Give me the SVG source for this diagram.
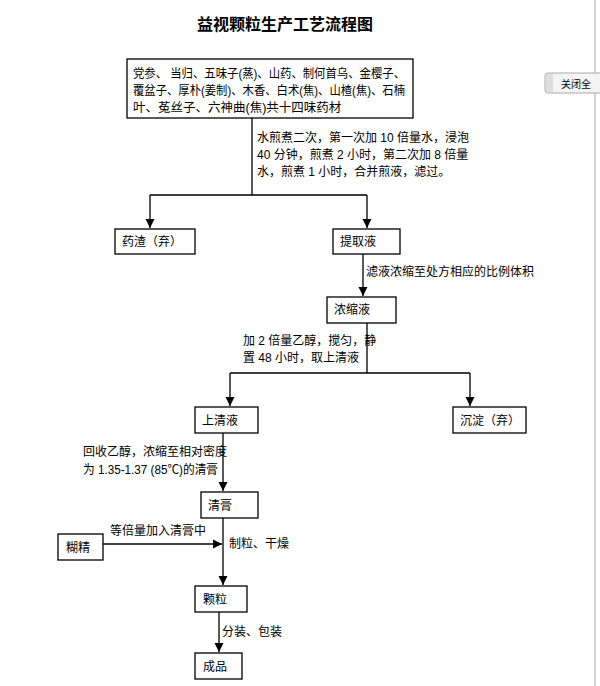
<svg xmlns="http://www.w3.org/2000/svg" width="600" height="686" viewBox="0 0 600 686">
<style>
text{font-family:"Liberation Sans","Noto Sans CJK SC",sans-serif;font-size:12px;fill:#000}
.b{fill:#fff;stroke:#000;stroke-width:1.3}
.c{fill:none;stroke:#000;stroke-width:1.3}
.t{font-size:12.5px}
</style>
<defs><marker id="a" viewBox="0 0 10 10" refX="10" refY="5" markerWidth="7" markerHeight="7" orient="auto"><path d="M0,0 L10,5 L0,10 z" fill="#000"/></marker></defs>
<rect width="600" height="686" fill="#fff"/>
<line x1="595" y1="0" x2="595" y2="686" stroke="#aaa"/>
<g id="ui"><rect x="545" y="73" width="60" height="20" rx="3" fill="#f4f4f4" stroke="#aaa"/><rect x="546" y="74" width="7" height="18" fill="#ddd"/><text x="561" y="88" fill="#444" style="font-size:10px">关闭全</text></g>
<text x="285" y="30" text-anchor="middle" style="font-size:16px;font-weight:bold">益视颗粒生产工艺流程图</text>
<g id="connectors">
<path class="c" d="M252,118 V195 M150,195 H367"/>
<path class="c" d="M150,195 V228" marker-end="url(#a)"/>
<path class="c" d="M367,195 V228" marker-end="url(#a)"/>
<path class="c" d="M363,254 V296" marker-end="url(#a)"/>
<path class="c" d="M367,323 V373 M230,373 H470"/>
<path class="c" d="M230,373 V406" marker-end="url(#a)"/>
<path class="c" d="M470,373 V406" marker-end="url(#a)"/>
<path class="c" d="M223,433 V491" marker-end="url(#a)"/>
<path class="c" d="M223,518 V585" marker-end="url(#a)"/>
<path class="c" d="M103,544 H222" marker-end="url(#a)"/>
<path class="c" d="M219,612 V652" marker-end="url(#a)"/>
<text x="257" y="142">水煎煮二次，第一次加 10 倍量水，浸泡</text>
<text x="257" y="159">40 分钟，煎煮 2 小时，第二次加 8 倍量</text>
<text x="257" y="176">水，煎煮 1 小时，合并煎液，滤过。</text>
<text x="366" y="276">滤液浓缩至处方相应的比例体积</text>
<text x="243" y="345">加 2 倍量乙醇，搅匀，静</text>
<text x="243" y="362">置 48 小时，取上清液</text>
<text x="83" y="456">回收乙醇，浓缩至相对密度</text>
<text x="83" y="474" textLength="135" lengthAdjust="spacingAndGlyphs">为 1.35-1.37 (85℃)的清膏</text>
<text x="110" y="535">等倍量加入清膏中</text>
<text x="229" y="548">制粒、干燥</text>
<text x="222" y="636">分装、包装</text>
</g>
<g id="n1"><rect class="b" x="127" y="59" width="286" height="59"/>
<text class="t" x="133" y="78" textLength="272" lengthAdjust="spacingAndGlyphs">党参、 当归、五味子(蒸)、山药、制何首乌、金樱子、</text>
<text class="t" x="133" y="95" textLength="272" lengthAdjust="spacingAndGlyphs">覆盆子、厚朴(姜制)、木香、白术(焦)、山楂(焦)、石楠</text>
<text class="t" x="133" y="112">叶、菟丝子、六神曲(焦)共十四味药材</text></g>
<g id="n2"><rect class="b" x="115" y="229" width="80" height="25"/><text x="122" y="246">药渣（弃）</text></g>
<g id="n3"><rect class="b" x="333" y="229" width="67" height="25"/><text x="340" y="246">提取液</text></g>
<g id="n4"><rect class="b" x="327" y="297" width="69" height="26"/><text x="334" y="314">浓缩液</text></g>
<g id="n5"><rect class="b" x="195" y="407" width="63" height="26"/><text x="202" y="425">上清液</text></g>
<g id="n6"><rect class="b" x="453" y="407" width="73" height="26"/><text x="460" y="425">沉淀（弃）</text></g>
<g id="n7"><rect class="b" x="201" y="492" width="57" height="26"/><text x="208" y="510">清膏</text></g>
<g id="n8"><rect class="b" x="58" y="534" width="45" height="26"/><text x="66" y="552">糊精</text></g>
<g id="n9"><rect class="b" x="195" y="586" width="52" height="26"/><text x="203" y="604">颗粒</text></g>
<g id="n10"><rect class="b" x="195" y="653" width="47" height="26"/><text x="203" y="671">成品</text></g>
</svg>
